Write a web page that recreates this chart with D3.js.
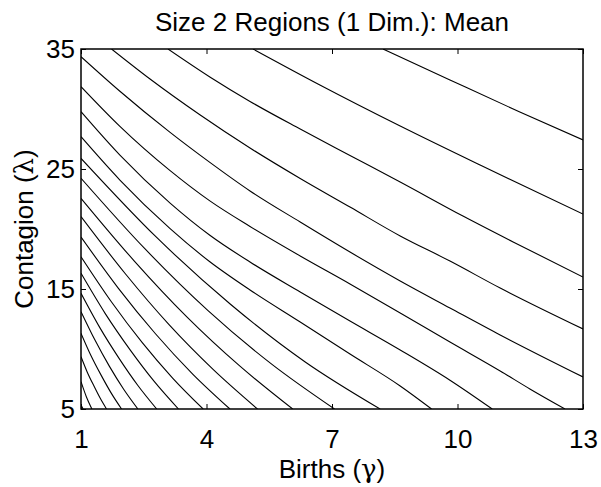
<!DOCTYPE html>
<html>
<head>
<meta charset="utf-8">
<script src="https://cdn.jsdelivr.net/npm/d3@7"></script>
<style>
  body { margin: 0; background: #fff; }
  text { font-family: "Liberation Sans", Arial, Helvetica, sans-serif; fill: #000; }
  .axis text { font-size: 26px; }
  .axis .domain { display: none; }
  .axis line { stroke: #000; stroke-width: 1; }
  .contour { fill: none; stroke: #000; stroke-width: 1.1; }
  .greek { font-family: "DejaVu Serif", serif; }
</style>
</head>
<body>
<div id="chart"></div>
<script>
// tick values and labels
const xTicks = [1, 4, 7, 10, 13];
const yTicks = [5, 15, 25, 35];
const titleText = "Size 2 Regions (1 Dim.): Mean";
const xLabel = ["Births (", "\u03b3", ")"];
const yLabel = ["Contagion (", "\u03bb", ")"];

// contour lines as [births, contagion] pairs
const c00 = [[8.22, 35], [9.82, 32.42], [11.49, 29.75], [13, 27.42]];
const c01 = [[5.11, 35], [6.71, 32.0], [8.63, 28.58], [10.54, 25.33], [13, 21.25]];
const c02 = [[3.08, 35], [4.08, 32.67], [5.04, 30.63], [6.24, 28.33], [7.43, 26.13], [8.63, 23.92], [10.13, 21.08], [11.33, 18.92], [13, 16.0]];
const c03 = [[1.73, 35], [2.65, 32.5], [3.85, 29.5], [5.04, 26.75], [6.24, 24.21], [7.43, 21.83], [8.63, 19.42], [9.82, 17.33], [11.02, 15.08], [13, 11.67]];
const c04 = [[1, 34.36], [1.93, 31.48], [3.13, 28.05], [4.08, 25.55], [5.04, 23.17], [6.24, 20.58], [7.43, 18.08], [8.63, 15.67], [9.82, 13.42], [11.02, 11.17], [13, 7.67]];
const c05 = [[1, 31.86], [1.93, 28.55], [3.13, 24.86], [4.08, 22.34], [5.04, 20.21], [6.24, 17.75], [7.43, 15.42], [8.63, 13.0], [9.82, 10.58], [11.02, 8.17], [11.73, 6.67], [12.57, 5]];
const c06 = [[1, 29.78], [1.93, 26.16], [3.13, 22.16], [4.08, 19.48], [5.04, 17.25], [6.24, 14.75], [7.43, 12.33], [8.63, 9.92], [9.82, 7.4], [10.83, 5]];
const c07 = [[1, 27.69], [1.93, 24.08], [3.13, 20.03], [4.08, 17.27], [5.04, 14.92], [6.24, 12.25], [7.43, 9.58], [8.63, 6.92], [9.38, 5]];
const c08 = [[1, 25.89], [2.79, 19.36], [4.58, 13.71], [6.36, 8.92], [8.15, 5]];
const c09 = [[1, 24.23], [2.52, 18.38], [4.03, 13.22], [5.55, 8.76], [7.06, 5]];
const c10 = [[1, 22.56], [2.27, 17.35], [3.53, 12.68], [4.8, 8.57], [6.06, 5]];
const c11 = [[1, 21.03], [2.06, 16.27], [3.11, 12.01], [4.17, 8.26], [5.22, 5]];
const c12 = [[1, 19.33], [1.89, 15.08], [2.78, 11.27], [3.67, 7.91], [4.56, 5]];
const c13 = [[1, 17.69], [1.73, 13.92], [2.46, 10.55], [3.19, 7.58], [3.92, 5]];
const c14 = [[1, 16.31], [1.58, 12.95], [2.17, 9.95], [2.75, 7.3], [3.33, 5]];
const c15 = [[1, 14.64], [1.45, 11.78], [1.91, 9.22], [2.36, 6.96], [2.81, 5]];
const c16 = [[1, 13.11], [1.34, 10.7], [1.68, 8.55], [2.02, 6.65], [2.36, 5]];
const c17 = [[1, 11.31], [1.24, 9.44], [1.49, 7.76], [1.73, 6.28], [1.97, 5]];
const c18 = [[1, 9.36], [1.15, 8.07], [1.31, 6.91], [1.46, 5.89], [1.61, 5]];
const c19 = [[1, 7.28], [1.13, 6.0], [1.26, 5]];
const c20 = [[1, 5.33], [1.05, 5]];

const contours = [c00, c01, c02, c03, c04, c05, c06, c07, c08, c09, c10,
                  c11, c12, c13, c14, c15, c16, c17, c18, c19, c20];

const W = 601, H = 487;
const margin = {top: 49, right: 18, bottom: 78, left: 81};
const width = W - margin.left - margin.right;   // 502
const height = H - margin.top - margin.bottom;  // 360

const svg = d3.select("#chart").append("svg")
              .attr("width", W)
              .attr("height", H);

svg.append("rect").attr("width", W).attr("height", H).attr("fill", "#fff");

const g = svg.append("g")
             .attr("transform", "translate(" + margin.left + "," + margin.top + ")");

const xScale = d3.scaleLinear().domain([1, 13]).range([0, width]);
const yScale = d3.scaleLinear().domain([5, 35]).range([height, 0]);

g.append("clipPath").attr("id", "plot-clip")
 .append("rect").attr("width", width).attr("height", height);

const line = d3.line()
               .x(d => xScale(d[0]))
               .y(d => yScale(d[1]))
               .curve(d3.curveMonotoneX);

g.append("g")
 .attr("clip-path", "url(#plot-clip)")
 .selectAll("path")
 .data(contours)
 .enter()
 .append("path")
 .attr("class", "contour")
 .attr("d", line);

// axes, MATLAB style: ticks pointing inward on all four sides
g.append("g")
 .attr("class", "axis")
 .attr("transform", "translate(0," + height + ")")
 .call(d3.axisBottom(xScale).tickValues(xTicks).tickSizeInner(-5).tickSizeOuter(0).tickPadding(20.5));

g.append("g")
 .attr("class", "axis")
 .call(d3.axisLeft(yScale).tickValues(yTicks).tickSizeInner(-5).tickSizeOuter(0).tickPadding(6));

g.append("g")
 .attr("class", "axis")
 .call(d3.axisTop(xScale).tickValues(xTicks).tickSizeInner(-5).tickSizeOuter(0).tickFormat(""));

g.append("g")
 .attr("class", "axis")
 .attr("transform", "translate(" + width + ",0)")
 .call(d3.axisRight(yScale).tickValues(yTicks).tickSizeInner(-5).tickSizeOuter(0).tickFormat(""));

// frame
g.append("rect")
 .attr("width", width)
 .attr("height", height)
 .attr("fill", "none")
 .attr("stroke", "#000")
 .attr("stroke-width", 1.5);

// title and axis labels
svg.append("text")
   .attr("x", margin.left + width / 2)
   .attr("y", 31)
   .attr("text-anchor", "middle")
   .style("font-size", "26px")
   .text(titleText);

function addLabel(sel, parts) {
  sel.selectAll("tspan")
     .data(parts)
     .enter()
     .append("tspan")
     .attr("class", (d, i) => i === 1 ? "greek" : null)
     .text(d => d);
}

svg.append("text")
   .attr("x", margin.left + width / 2)
   .attr("y", 478)
   .attr("text-anchor", "middle")
   .style("font-size", "26px")
   .call(addLabel, xLabel);

svg.append("text")
   .attr("transform", "translate(33," + (margin.top + height / 2) + ") rotate(-90)")
   .attr("text-anchor", "middle")
   .style("font-size", "26px")
   .call(addLabel, yLabel);
</script>
</body>
</html>
